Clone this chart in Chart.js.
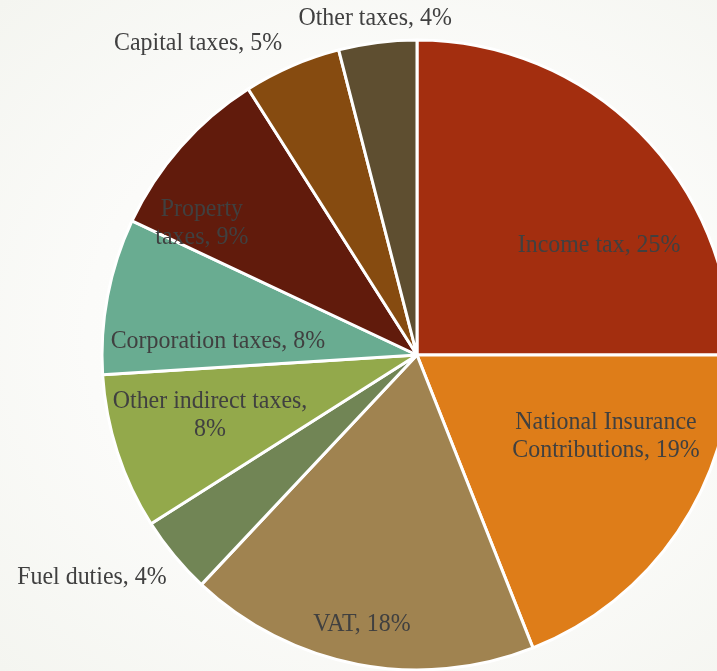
<!DOCTYPE html>
<html>
<head>
<meta charset="utf-8">
<script src="https://cdn.jsdelivr.net/npm/chart.js@4.4.0/dist/chart.umd.min.js"></script>
<style>
html, body { margin:0; padding:0; overflow:hidden; width:717px; height:671px; }
body { background: radial-gradient(ellipse at 55% 50%, #ffffff 0%, #fbfbf9 55%, #f4f5f0 100%); }
#wrap { position:absolute; left:0; top:0; width:760px; height:680px; }
</style>
</head>
<body>
<div id="wrap"><canvas id="c"></canvas></div>
<script>
// ---- data ----
const categories = ["Income tax", "National Insurance Contributions", "VAT", "Fuel duties",
  "Other indirect taxes", "Corporation taxes", "Property taxes", "Capital taxes", "Other taxes"];
const shares = [25, 19, 18, 4, 8, 8, 9, 5, 4];
const sliceColors = ["#a32e0f", "#de7d19", "#a08350", "#718555", "#93a94b", "#69ac91", "#611b0c", "#864b10", "#5e4e30"];

// ---- label styling (line breaks and placement relative to the pie, in radius units) ----
const labelLines = [
  null,
  ["National Insurance", "Contributions, {v}%"],
  null, null,
  ["Other indirect taxes,", "{v}%"],
  null,
  ["Property", "taxes, {v}%"],
  null, null
];
const labelOffsets = [
  [0.578, -0.349], [0.600, 0.257], [-0.175, 0.854], [-1.032, 0.705], [-0.657, 0.192],
  [-0.632, -0.044], [-0.683, -0.419], [-0.695, -0.990], [-0.133, -1.070]
];

const labelPlugin = {
  id: 'sliceLabels',
  afterDatasetsDraw(chart) {
    const ctx = chart.ctx;
    const meta = chart.getDatasetMeta(0);
    ctx.save();
    ctx.font = '26px "Liberation Serif", "Times New Roman", serif';
    ctx.fillStyle = '#404040';
    ctx.textAlign = 'center';
    ctx.textBaseline = 'middle';
    const lh = 28;
    meta.data.forEach((arc, i) => {
      const r = arc.outerRadius;
      const cx = arc.x + labelOffsets[i][0] * r;
      const cy = arc.y + labelOffsets[i][1] * r;
      const v = chart.data.datasets[0].data[i];
      const lines = labelLines[i]
        ? labelLines[i].map(s => s.replace('{v}', v))
        : [chart.data.labels[i] + ', ' + v + '%'];
      const y0 = cy - (lines.length - 1) * lh / 2;
      lines.forEach((s, k) => {
        ctx.save();
        ctx.translate(cx, y0 + k * lh);
        ctx.scale(0.92, 1);
        ctx.fillText(s, 0, 0);
        ctx.restore();
      });
    });
    ctx.restore();
  }
};

new Chart(document.getElementById('c'), {
  type: 'pie',
  data: {
    labels: categories,
    datasets: [{
      data: shares,
      backgroundColor: sliceColors,
      borderColor: '#ffffff',
      borderWidth: 3
    }]
  },
  options: {
    responsive: true,
    maintainAspectRatio: false,
    animation: false,
    radius: 315,
    layout: { padding: { left: 102, right: 28, top: 40, bottom: 10 } },
    plugins: { legend: { display: false }, tooltip: { enabled: false } }
  },
  plugins: [labelPlugin]
});
</script>
</body>
</html>
